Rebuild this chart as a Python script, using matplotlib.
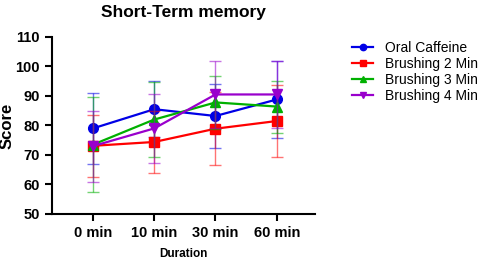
import matplotlib.pyplot as plt
import numpy as np

plt.rcParams['font.family'] = ['Liberation Sans', 'DejaVu Sans']

durations = ['0 min', '10 min', '30 min', '60 min']
groups = ['Oral Caffeine', 'Brushing 2 Min', 'Brushing 3 Min', 'Brushing 4 Min']
colors = ['#0000e6', '#ff0000', '#00b000', '#9900cc']
markers = ['o', 's', '^', 'v']

oral_mean = [79.0, 85.5, 83.2, 88.8]
oral_err = [12.0, 9.5, 11.0, 13.0]
b2_mean = [73.1, 74.4, 78.9, 81.5]
b2_err = [10.5, 10.4, 12.4, 12.1]
b3_mean = [73.5, 82.0, 87.8, 86.4]
b3_err = [16.0, 12.8, 9.0, 8.8]
b4_mean = [73.0, 79.0, 90.5, 90.5]
b4_err = [12.0, 11.6, 11.4, 11.2]

means = [oral_mean, b2_mean, b3_mean, b4_mean]
errs = [oral_err, b2_err, b3_err, b4_err]

fig = plt.figure(figsize=(4.85, 2.6), dpi=100)
ax = fig.add_axes([0.107, 0.177, 0.542, 0.681])
x = np.arange(len(durations))

for name, m, e, c, mk in zip(groups, means, errs, colors, markers):
    ax.errorbar(x, m, yerr=e, fmt='none', ecolor=c, alpha=0.55,
                elinewidth=1.0, capsize=4, capthick=1.0)
    ax.plot(x, m, color=c, marker=mk, markersize=7, linewidth=1.6, label=name)

ax.set_xlim(-0.67, 3.62)
ax.set_ylim(50, 110)
ax.set_yticks(range(50, 111, 10))
ax.set_xticks(x)
ax.set_xticklabels(durations)
for lab in ax.get_xticklabels() + ax.get_yticklabels():
    lab.set_fontweight('bold')
    lab.set_fontsize(10.5)
ax.spines['top'].set_visible(False)
ax.spines['right'].set_visible(False)
for s in ['left', 'bottom']:
    ax.spines[s].set_linewidth(1.5)
ax.tick_params(width=1.5, length=5)

ax.set_ylabel('Score', fontweight='bold', fontsize=12)
ax.yaxis.set_label_coords(-0.143, 0.5)
ax.set_xlabel('Duration', fontweight='bold', fontsize=8.5)
ax.xaxis.set_label_coords(0.5, -0.19)
ax.set_title('Short-Term memory', fontweight='bold', fontsize=12.5, pad=14)

ax.legend(loc='upper left', bbox_to_anchor=(0.726, 0.844),
          bbox_transform=fig.transFigure, frameon=False, borderpad=0,
          borderaxespad=0, fontsize=10, handlelength=1.5,
          handletextpad=0.9, markerscale=0.65, labelspacing=0.15)

fig.savefig('out.png', dpi=100)
